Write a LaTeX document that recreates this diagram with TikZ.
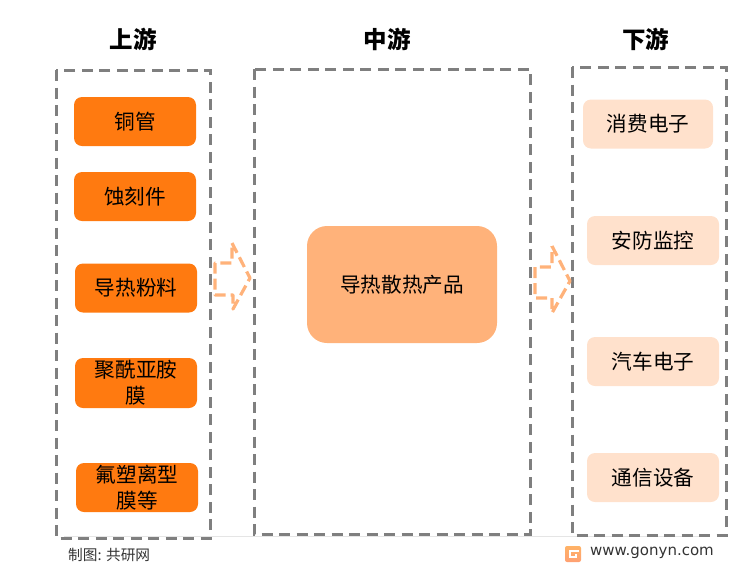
\documentclass[tikz,border=0pt]{standalone}
\usepackage{fontspec}
\usepackage{xcolor}
\setmainfont{Noto Sans CJK SC}
\newfontfamily\webfont{DejaVu Sans}
\definecolor{upfill}{HTML}{FF7A10}
\definecolor{midfill}{HTML}{FFB27A}
\definecolor{downfill}{HTML}{FFE1CC}
\definecolor{dashgray}{HTML}{7F7F7F}
\definecolor{arrowline}{HTML}{FFB27A}
\begin{document}
\begin{tikzpicture}[x=1pt,y=-1pt,
        head/.style={font=\bfseries\fontsize{23.5}{26}\selectfont,inner sep=0pt},
        item/.style={rounded corners=8pt,align=center,inner sep=0pt,
            font=\fontsize{20.6}{26}\selectfont,text=black},
        upbox/.style={item,fill=upfill,minimum width=122pt,minimum height=49pt},
        downbox/.style={item,fill=downfill,minimum width=132pt,minimum height=49pt},
        region/.style={draw=dashgray,line width=3pt,dash pattern=on 11pt off 6.5pt},
        flow/.style={draw=arrowline,line width=3.2pt,dash pattern=on 11pt off 5pt,line join=round}]
                \useasboundingbox (0,0) rectangle (750,582);
                \draw[black!10,line width=1pt] (64,536) -- (700,536);
                \draw[region] (56,70) rectangle (210,538);
                \draw[region] (254,69) rectangle (530,534);
                \draw[region] (572,67) rectangle (726,535);
                \node[head] (up) at (133,39) {上游};
                \node[head] (mid) at (387,39) {中游};
                \node[head] (down) at (645.5,39) {下游};
                \node[upbox] (tube) at (135,121.5) {铜管};
                \node[upbox] (etch) at (135,196.5) {蚀刻件};
                \node[upbox] (powder) at (136,288) {导热粉料};
                \node[upbox,minimum height=50pt] (film) at (136,383) {聚酰亚胺\\膜};
                \node[upbox] (fluoro) at (137,487.5) {氟塑离型\\膜等};
                \node[item,fill=midfill,rounded corners=20pt,minimum width=190pt,minimum height=117pt] (product) at (402,284.5) {导热散热产品};
                \node[downbox,minimum width=130pt] (consumer) at (648,124) {消费电子};
                \node[downbox] (security) at (653,240.5) {安防监控};
                \node[downbox] (auto) at (653,361.5) {汽车电子};
                \node[downbox] (telecom) at (653,477.5) {通信设备};
                % block arrows
                \draw[flow] (232,243) -- (250,278) -- (233,309) -- (233,295) -- (215,295) -- (215,263) -- (232,263) -- cycle;
                \draw[flow] (552,246) -- (570,281) -- (552,313) -- (552,298) -- (535,298) -- (535,267) -- (552,267) -- cycle;
                % footer
                \node[anchor=west,inner sep=0pt,font=\fontsize{14.7}{16}\selectfont,text=black!80] (credit) at (68,554.5) {制图: 共研网};
                \node[anchor=west,inner sep=0pt,font=\webfont\fontsize{15}{17}\selectfont,text=black!80] (site) at (590,552.5) {www.gonyn.com};
                \shade[top color=orange!60,bottom color=red!35!orange!55,rounded corners=2pt] (565,546) rectangle (581,562);
                \draw[white,line width=2pt] (579,551) -- (570,551) -- (570,557) -- (576,557) -- (576,554);
            \end{tikzpicture}
\end{document}
